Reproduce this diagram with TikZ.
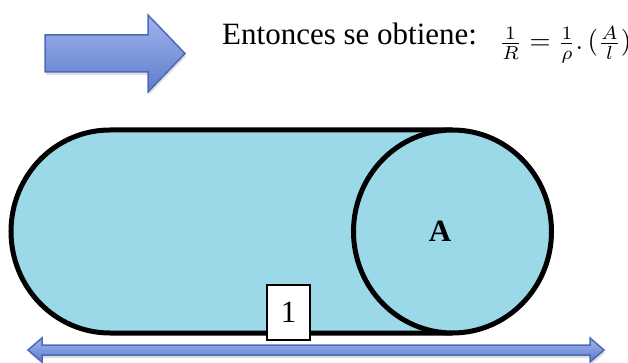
\documentclass[tikz,border=0pt]{standalone}
\usepackage{graphicx}
\usepackage{fontspec}
\setmainfont{Liberation Serif}
\definecolor{cylfill}{RGB}{155,216,232}
\definecolor{arrtop}{RGB}{160,180,238}
\definecolor{arrbot}{RGB}{94,124,203}
\definecolor{arredge}{RGB}{74,106,184}
\begin{document}
\begin{tikzpicture}[x=1pt,y=-1pt,
  outl/.style={line width=5pt,draw=black},
  bluearrow/.style={top color=arrtop,bottom color=arrbot,draw=arredge,line width=1.5pt,line join=miter},
  arrshadow/.style={fill=black,opacity=0.12},
  bigtext/.style={inner sep=0pt,font=\fontsize{31}{36}\selectfont}]
\useasboundingbox (0,0) rectangle (628,363);
\clip (0,0) rectangle (628,363);
% top block arrow (shadow, then arrow)
\path[arrshadow] (46,38) -- (149,38) -- (149,18) -- (186,56.5) -- (149,95) -- (149,75) -- (46,75) -- cycle;
\path[bluearrow] (45,35) -- (148,35) -- (148,15) -- (185,53.5) -- (148,92) -- (148,72) -- (45,72) -- cycle;
% heading text
\node[bigtext,anchor=base west] (txt) at (222,45) {Entonces se obtiene:};
\node[inner sep=0pt,anchor=base west] (frm) at (499,50)
  {\scalebox{2.7}{$\frac{1}{R}=\frac{1}{\rho}.\,(\frac{A}{l})$}};
% cylinder body
\fill[cylfill] (110,130) -- (452.5,130) -- (452.5,333) -- (110,333)
  arc[start angle=90,end angle=270,x radius=99,y radius=101.5] -- cycle;
\draw[outl] (452.5,130) -- (110,130)
  arc[start angle=270,end angle=90,x radius=99,y radius=101.5] -- (452.5,333);
\draw[outl,fill=cylfill] (452.5,231.5) ellipse[x radius=99,y radius=101.5];
\node[inner sep=0pt,font=\fontsize{31}{36}\selectfont\bfseries] (A) at (440,231) {A};
% length box
\node[draw=black,line width=1.5pt,fill=white,minimum width=43pt,minimum height=55pt,inner sep=0pt,
  font=\fontsize{31}{36}\selectfont] (one) at (288.5,312.5) {1};
% double arrow (shadow, then arrow)
\path[arrshadow] (29,353) -- (43,341) -- (43,348) -- (591,348) -- (591,341) -- (605,353)
  -- (591,365) -- (591,358) -- (43,358) -- (43,365) -- cycle;
\path[bluearrow] (28,350) -- (42,338) -- (42,345) -- (590,345) -- (590,338) -- (604,350)
  -- (590,362) -- (590,355) -- (42,355) -- (42,362) -- cycle;
\end{tikzpicture}
\end{document}
